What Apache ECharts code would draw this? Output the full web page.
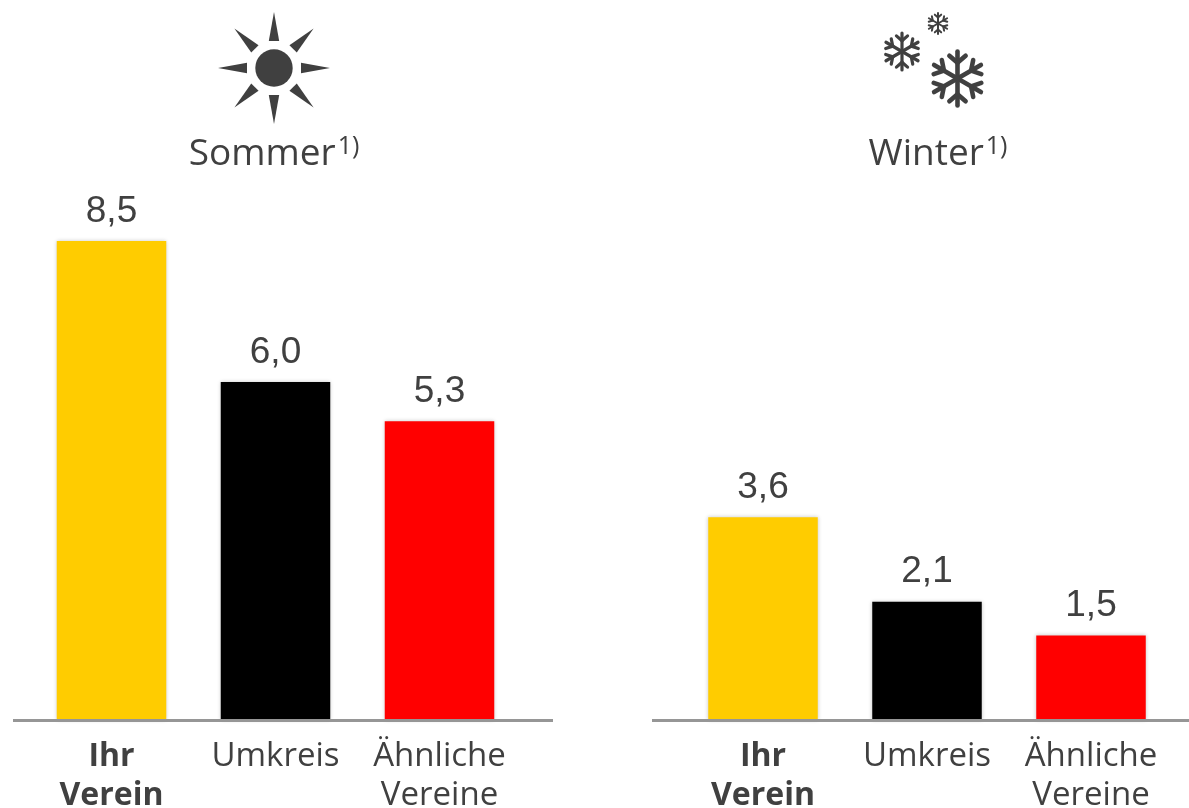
<!DOCTYPE html>
<html><head><meta charset="utf-8">
<style>html,body{margin:0;padding:0;background:#fff}#c{width:1189px;height:808px}</style>
<script src="https://cdn.jsdelivr.net/npm/echarts@6/dist/echarts.min.js"></script>
</head><body><div id="c"></div>
<script>
const categories = ['Ihr\nVerein', 'Umkreis', 'Ähnliche\nVereine'];
const sommerValues = [8.5, 6.0, 5.3];
const winterValues = [3.6, 2.1, 1.5];
const barColors = ['#FFCC00', '#000000', '#FF0000'];
const TEXT = '#404040';
const AXIS = '#969696';
const LABEL_FONT = '"Open Sans"';

const chart = echarts.init(document.getElementById('c'), null, {renderer: 'canvas'});

function axisPair(idx) {
  return {
    x: {
      type: 'category', gridIndex: idx, data: categories,
      axisLine: {show: false}, axisTick: {show: false},
      axisLabel: {
        margin: 17, interval: 0, lineHeight: 39, fontFamily: LABEL_FONT, fontSize: 33, color: TEXT,
        verticalAlign: 'top', hideOverlap: false,
        formatter: v => v.startsWith('Ihr') ? v.split('\n').map(s => '{b|' + s + '}').join('\n') : v,
        rich: {b: {fontWeight: 'bold', fontFamily: LABEL_FONT, fontSize: 32, color: TEXT, lineHeight: 39}}
      }
    },
    y: {type: 'value', gridIndex: idx, min: 0, max: 10, show: false}
  };
}
function barSeries(idx, values) {
  return {
    type: 'bar', xAxisIndex: idx, yAxisIndex: idx, barWidth: 109.5,
    data: values.map((v, i) => ({value: v, itemStyle: {color: barColors[i], shadowBlur: 4, shadowColor: 'rgba(0,0,0,0.22)'}})),
    label: {show: true, position: 'top', distance: 11, fontFamily: '"Liberation Sans"', fontSize: 37, color: TEXT,
      formatter: p => p.value.toFixed(1).replace('.', ',')}
  };
}
function ray(cx, cy, deg) {
  const a = deg * Math.PI / 180, c = Math.cos(a), s = Math.sin(a);
  const p = (r, w) => [cx + r * c - w * s, cy + r * s + w * c];
  return {type: 'polygon', shape: {points: [p(27, -5.2), p(56, 0), p(27, 5.2)]}, style: {fill: TEXT}};
}
function flake(cx, cy, R, lw) {
  const lines = [];
  for (let k = 0; k < 6; k++) {
    const a = (k * 60 - 90) * Math.PI / 180;
    const at = (r, off) => [cx + r * Math.cos(a + off), cy + r * Math.sin(a + off)];
    const root = [cx + 0.58 * R * Math.cos(a), cy + 0.58 * R * Math.sin(a)];
    const seg = (p, q) => lines.push({type: 'line', shape: {x1: p[0], y1: p[1], x2: q[0], y2: q[1]},
      style: {stroke: TEXT, lineWidth: lw, lineCap: 'round'}});
    seg([cx, cy], at(R, 0));
    seg(root, [root[0] + 0.4 * R * Math.cos(a - 0.85), root[1] + 0.4 * R * Math.sin(a - 0.85)]);
    seg(root, [root[0] + 0.4 * R * Math.cos(a + 0.85), root[1] + 0.4 * R * Math.sin(a + 0.85)]);
  }
  return lines;
}
function heading(x, y, word) {
  return {type: 'text', x, y, style: {
    text: '{w|' + word + '}{s|1)}', align: 'center', verticalAlign: 'middle',
    rich: {
      w: {fontFamily: LABEL_FONT, fontSize: 37, fill: TEXT, color: TEXT},
      s: {fontFamily: LABEL_FONT, fontSize: 25, fill: TEXT, color: TEXT, verticalAlign: 'top', padding: [0, 0, 14, 2]}
    }
  }};
}
function baseline(x1, x2) {
  return {type: 'line', shape: {x1, y1: 720.5, x2, y2: 720.5}, style: {stroke: AXIS, lineWidth: 3}, z: 10};
}
const a0 = axisPair(0), a1 = axisPair(1);
chart.setOption({
  animation: false,
  backgroundColor: '#fff',
  grid: [
    {left: 29.5, width: 492, top: 156.5, height: 563.5, outerBoundsMode: 'none'},
    {left: 681, width: 492, top: 156.5, height: 563.5, outerBoundsMode: 'none'}
  ],
  xAxis: [a0.x, a1.x], yAxis: [a0.y, a1.y],
  series: [barSeries(0, sommerValues), barSeries(1, winterValues)],
  graphic: [
    baseline(13, 553), baseline(652, 1189),
    {type: 'circle', shape: {cx: 274, cy: 68, r: 18.7}, style: {fill: TEXT}},
    ...[0, 45, 90, 135, 180, 225, 270, 315].map(d => ray(274, 68, d)),
    ...flake(957.5, 78.5, 27, 4.6), ...flake(902, 51.5, 18.5, 3.2), ...flake(938, 23.5, 10.5, 2),
    heading(274, 154, 'Sommer'),
    heading(938, 154, 'Winter')
  ]
});
</script></body></html>
